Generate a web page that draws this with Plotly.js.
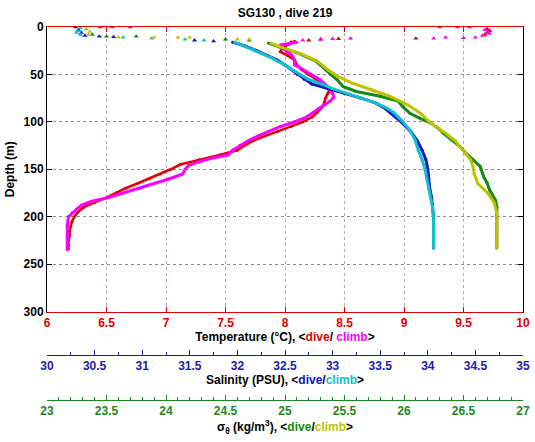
<!DOCTYPE html>
<html>
<head>
<meta charset="utf-8">
<script src="https://cdn.plot.ly/plotly-3.0.1.min.js"></script>
<style>html,body{margin:0;padding:0;background:#fff;}#chart{width:535px;height:442px;}</style>
</head>
<body>
<div id="chart"></div>
<script>
// ---------- Data ----------
// Temperature, dive (red)
const tempDiveDepth = [15,18,22,26,30,35,40,45,50,55,60,65,70,75,80,85,90,95,100,105,110,115,120,125,130,135,140,145,150,155,160,165,170,175,180,185,190,195,200,205,210,215,220,225,230,234];
const tempDive      = [8.08,8.04,7.98,7.96,8.02,8.08,8.10,8.14,8.20,8.27,8.33,8.38,8.36,8.34,8.33,8.31,8.27,8.23,8.15,8.05,7.94,7.83,7.73,7.66,7.60,7.45,7.28,7.12,7.04,6.95,6.86,6.76,6.66,6.58,6.50,6.40,6.31,6.26,6.23,6.21,6.20,6.19,6.19,6.18,6.18,6.18];
const tempDiveSurfDepth = [2,4,6,8,12,12.5,13,14,16];
const tempDiveSurf      = [9.70,9.72,9.70,9.68,9.10,8.45,8.30,8.20,8.05];
// Temperature, climb (magenta)
const tempClimbDepth = [16,19,22,26,30,35,40,44,50,56,62,66,70,74,78,82,86,90,95,100,105,110,115,120,125,130,135,138,142,146,150,155,160,165,170,175,180,184,188,192,196,200,210,220,230,235];
const tempClimb      = [8.10,7.96,7.98,8.02,8.06,8.08,8.08,8.14,8.22,8.30,8.35,8.37,8.40,8.41,8.38,8.33,8.28,8.24,8.18,8.08,7.96,7.86,7.77,7.69,7.62,7.56,7.52,7.40,7.28,7.19,7.16,7.14,7.03,6.90,6.78,6.64,6.51,6.37,6.29,6.25,6.21,6.18,6.17,6.17,6.17,6.17];
const tempClimbSurfDepth = [0,0,0,3,5,7,9,11,11.5,11,12,12,12.5,13,14];
const tempClimbSurf      = [9.30,9.45,9.55,9.68,9.70,9.72,9.66,9.60,9.50,9.35,9.25,8.55,8.40,8.30,8.15];

// Salinity, dive (blue)
const salDiveDepth = [16,20,25,30,35,40,45,50,55,60,65,70,75,80,85,90,95,100,110,120,130,140,150,160,170,180,190,200,210,220,233];
const salDive      = [31.95,32.08,32.20,32.32,32.42,32.50,32.57,32.63,32.70,32.78,32.95,33.13,33.30,33.45,33.54,33.60,33.66,33.72,33.82,33.89,33.94,33.98,34.00,34.01,34.02,34.04,34.05,34.06,34.06,34.06,34.06];
const salDiveSurfDepth = [0,3,6,9,10,10.5,14,15];
const salDiveSurf      = [30.30,30.33,30.36,30.40,30.55,30.70,31.55,31.75];
// Salinity, climb (cyan)
const salClimbDepth = [16,20,24,28,32,36,40,45,50,55,60,65,70,75,80,85,90,95,100,110,120,130,140,150,160,170,180,190,200,210,220,233];
const salClimb      = [31.97,32.07,32.17,32.26,32.35,32.42,32.50,32.58,32.66,32.74,32.88,33.00,33.15,33.29,33.45,33.56,33.64,33.69,33.74,33.82,33.87,33.90,33.94,33.97,33.99,34.01,34.03,34.05,34.06,34.06,34.06,34.06];
const salClimbSurfDepth = [1,4,6,8,11,12,13,14];
const salClimbSurf      = [30.35,30.32,30.31,30.35,30.80,31.10,31.45,31.65];

// Sigma-theta, dive (green)
const sigDiveDepth = [17,21,28,36,45,50,56,63,68,73,78,84,91,96,101,106,112,119,126,133,140,147,158,165,172,183,190,200,210,220,233];
const sigDive      = [24.86,24.95,25.12,25.26,25.34,25.38,25.44,25.49,25.60,25.80,25.95,25.99,26.05,26.13,26.22,26.28,26.33,26.40,26.47,26.52,26.58,26.64,26.67,26.70,26.72,26.77,26.78,26.78,26.78,26.78,26.78];
const sigDiveSurfDepth = [0,0,0,8,10,10,13,14];
const sigDiveSurf      = [23.45,23.55,23.70,23.38,23.50,23.75,24.50,24.70];
// Sigma-theta, climb (olive)
const sigClimbDepth = [17,21,28,36,45,52,59,66,73,82,91,101,112,120,126,133,140,147,155,165,176,186,196,205,215,225,233];
const sigClimb      = [24.88,24.96,25.13,25.27,25.36,25.44,25.56,25.73,25.88,26.03,26.14,26.22,26.35,26.43,26.47,26.52,26.56,26.58,26.59,26.62,26.71,26.76,26.78,26.78,26.78,26.78,26.78];
const sigClimbSurfDepth = [2,5,8,11,11,11,11,13,13];
const sigClimbSurf      = [23.33,23.36,23.35,23.60,23.90,24.10,24.20,24.60,24.70];

// Tick values
const tempTicks = [6,6.5,7,7.5,8,8.5,9,9.5,10];
const salTicks  = [30,30.5,31,31.5,32,32.5,33,33.5,34,34.5,35];
const sigTicks  = [23,23.5,24,24.5,25,25.5,26,26.5,27];
const depthTicks = [0,50,100,150,200,250,300];

// ---------- Styles ----------
const C = {
  red:'#e00000', magenta:'#ff00ff', blue:'#1414c8', cyan:'#10c0cc',
  green:'#138a13', olive:'#c0c000',
  salAxis:'#2020a8', sigAxis:'#1a8a1a'
};
const FONT = 'Liberation Sans, Arial, Helvetica, sans-serif';

function prof(x, y, color, xa, w){
  return {x:x, y:y, xaxis:xa, yaxis:'y', type:'scatter', mode:'lines+markers',
    line:{color:color, width:w||3}, marker:{color:color, size:3}, hoverinfo:'skip', showlegend:false};
}
function surf(x, y, color, xa){
  return {x:x, y:y, xaxis:xa, yaxis:'y', type:'scatter', mode:'markers',
    marker:{color:color, size:4.5, symbol:'triangle-up'}, hoverinfo:'skip', showlegend:false};
}

const traces = [
  prof(tempDive, tempDiveDepth, C.red, 'x', 2.5),
  surf(tempDiveSurf, tempDiveSurfDepth, C.red, 'x'),
  prof(tempClimb, tempClimbDepth, C.magenta, 'x', 3),
  surf(tempClimbSurf, tempClimbSurfDepth, C.magenta, 'x'),
  prof(salDive, salDiveDepth, C.blue, 'x2', 3),
  surf(salDiveSurf, salDiveSurfDepth, C.blue, 'x2'),
  prof(salClimb, salClimbDepth, C.cyan, 'x2', 3),
  surf(salClimbSurf, salClimbSurfDepth, C.cyan, 'x2'),
  prof(sigDive, sigDiveDepth, C.green, 'x3', 3),
  surf(sigDiveSurf, sigDiveSurfDepth, C.green, 'x3'),
  prof(sigClimb, sigClimbDepth, C.olive, 'x3', 3),
  surf(sigClimbSurf, sigClimbSurfDepth, C.olive, 'x3')
];

const tickFont = (c)=>({family:FONT, size:12, color:c, weight:'bold'});
const titleFont = {family:FONT, size:12, color:'#000', weight:'bold'};

const layout = {
  width:535, height:442,
  margin:{l:47, r:12, t:27, b:12},
  paper_bgcolor:'#fff', plot_bgcolor:'#fff',
  showlegend:false,
  font:{family:FONT, size:12, color:'#000'},
  title:{text:'SG130 , dive 219', font:{family:FONT, size:12, color:'#000', weight:'bold'},
    x:0.533, xref:'container', xanchor:'center', y:1-13/442, yref:'container', yanchor:'middle'},
  xaxis:{
    domain:[0,1], anchor:'y', range:[6,10], tickvals:tempTicks, ticktext:tempTicks.map(String),
    ticks:'inside', ticklen:5, tickcolor:C.red, showline:true, linecolor:C.red, linewidth:1, mirror:'ticks',
    showgrid:true, gridcolor:'#c8a4a4', griddash:'dot', gridwidth:1, zeroline:false,
    tickfont:tickFont(C.red),
    title:{text:'Temperature (°C), &lt;<span style="color:'+C.red+'">dive</span>/ <span style="color:'+C.magenta+'">climb</span>&gt;',
      font:titleFont, standoff:2}
  },
  xaxis2:{
    overlaying:'x', anchor:'free', position:(430-354.5)/403, side:'bottom',
    range:[30,35], tickvals:salTicks, ticktext:salTicks.map(String),
    ticks:'inside', ticklen:5, tickcolor:C.salAxis, showline:true, linecolor:C.salAxis, linewidth:1,
    minor:{dtick:0.25, tick0:30, ticks:'inside', ticklen:3, tickcolor:C.salAxis, showgrid:false},
    showgrid:false, zeroline:false, tickfont:tickFont(C.salAxis),
    title:{text:'Salinity (PSU), &lt;<span style="color:'+C.blue+'">dive</span>/<span style="color:'+C.cyan+'">climb</span>&gt;',
      font:titleFont, standoff:2}
  },
  xaxis3:{
    overlaying:'x', anchor:'free', position:(430-400)/403, side:'bottom',
    range:[23,27], tickvals:sigTicks, ticktext:sigTicks.map(String),
    ticks:'inside', ticklen:5, tickcolor:C.sigAxis, showline:true, linecolor:C.sigAxis, linewidth:1,
    minor:{dtick:0.1, tick0:23, ticks:'inside', ticklen:3, tickcolor:C.sigAxis, showgrid:false},
    showgrid:false, zeroline:false, tickfont:tickFont(C.sigAxis),
    title:{text:'σ<sub>θ</sub> (kg/m<sup>3</sup>), &lt;<span style="color:'+C.green+'">dive</span>/<span style="color:'+C.olive+'">climb</span>&gt;',
      font:titleFont, standoff:2}
  },
  yaxis:{
    domain:[(430-311.5)/403, 1], anchor:'x', range:[300,0], tickvals:depthTicks, ticktext:depthTicks.map(String),
    ticks:'inside', ticklen:5, tickcolor:'#000', showline:true, linecolor:'#000', linewidth:1, mirror:'ticks',
    showgrid:true, gridcolor:'#8a8a8a', griddash:'dot', gridwidth:1, zeroline:false,
    tickfont:tickFont('#000'),
    title:{text:'Depth (m)', font:titleFont, standoff:6}
  }
};

Plotly.newPlot('chart', traces, layout, {staticPlot:true, displayModeBar:false});
</script>
</body>
</html>
